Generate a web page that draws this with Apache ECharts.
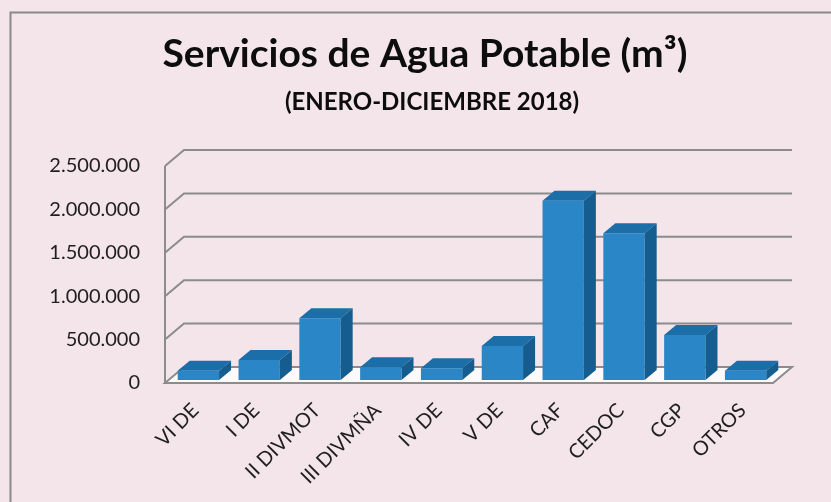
<!DOCTYPE html>
<html>
<head>
<meta charset="utf-8">
<script src="https://cdn.jsdelivr.net/npm/echarts@6/dist/echarts.min.js"></script>
<style>
  html, body { margin: 0; padding: 0; background: #F3E5EA; }
  #mychart { width: 831px; height: 502px; }
</style>
</head>
<body>
<div id="mychart"></div>
<script>
// datos
var categorias = ['VI DE', 'I DE', 'II DIVMOT', 'III DIVMÑA', 'IV DE', 'V DE', 'CAF', 'CEDOC', 'CGP', 'OTROS'];
var valores = [107000, 230000, 711000, 146000, 135000, 392000, 2066000, 1690000, 518000, 107000];
var marcas = [0, 500000, 1000000, 1500000, 2000000, 2500000];

// profundidad de la pared y de las barras
var PARED_DX = 19, PARED_DY = -16;
var BARRA_DX = 12, BARRA_DY = -10;

function miles(v) {
    return String(v).replace(/\B(?=(\d{3})+(?!\d))/g, '.');
}

function dibujaPared(params, api) {
    var cs = params.coordSys;
    var v = api.value(0);
    var y = api.coord([0, v])[1];
    var x0 = cs.x, x1 = cs.x + cs.width;
    var linea = {stroke: '#8C8C8C', lineWidth: 2, fill: null};
    var hijos = [];
    if (v === 0) {
        hijos.push({
            type: 'polygon',
            shape: {points: [[x0, y], [x1, y], [x1 + PARED_DX, y + PARED_DY], [x0 + PARED_DX, y + PARED_DY]]},
            style: {fill: '#FCFAFB', stroke: '#8C8C8C', lineWidth: 2}
        });
        hijos.push({
            type: 'line',
            shape: {x1: x0, y1: y, x2: x0, y2: cs.y},
            style: linea
        });
    } else {
        hijos.push({
            type: 'polyline',
            shape: {points: [[x0, y], [x0 + PARED_DX, y + PARED_DY], [x1 + PARED_DX, y + PARED_DY]]},
            style: linea
        });
    }
    return {type: 'group', children: hijos};
}

function dibujaBarra(params, api) {
    var i = api.value(0);
    var tope = api.coord([i, api.value(1)]);
    var base = api.coord([i, 0]);
    var w = api.size([1, 0])[0] * 0.68;
    var l = tope[0] - w / 2 + 3, r = l + w;
    var t = tope[1] - 3, b = base[1] - 3;
    return {
        type: 'group',
        children: [
            {type: 'rect', shape: {x: l, y: t, width: w, height: b - t}, style: {fill: '#2A86C6'}},
            {type: 'polygon', shape: {points: [[l, t], [r, t], [r + BARRA_DX, t + BARRA_DY], [l + BARRA_DX, t + BARRA_DY]]}, style: {fill: '#1B6EA8'}},
            {type: 'polygon', shape: {points: [[r, t], [r + BARRA_DX, t + BARRA_DY], [r + BARRA_DX, b + BARRA_DY], [r, b]]}, style: {fill: '#155D8E'}}
        ]
    };
}

var option = {
    backgroundColor: '#F3E5EA',
    animation: false,
    title: [
        {
            text: 'Servicios de Agua Potable (m³)',
            left: 420,
            top: 30,
            textAlign: 'center',
            textStyle: {fontFamily: 'Lato', fontWeight: 'bold', fontSize: 39, color: '#0D0D0D'}
        },
        {
            text: '(ENERO-DICIEMBRE 2018)',
            left: 427,
            top: 85,
            textAlign: 'center',
            textStyle: {fontFamily: 'Lato', fontWeight: 'bold', fontSize: 24, color: '#0D0D0D'}
        }
    ],
    graphic: [
        {
            type: 'rect',
            left: 8,
            top: 10,
            shape: {width: 900, height: 600},
            style: {fill: null, stroke: '#8A8A8A', lineWidth: 2},
            silent: true
        }
    ],
    grid: {
        left: 165,
        right: 58,
        top: 166,
        bottom: 119
    },
    xAxis: {
        type: 'category',
        data: categorias,
        axisLine: {show: false},
        axisTick: {show: false},
        axisLabel: {
            rotate: 45,
            margin: 24,
            interval: 0,
            fontFamily: 'Lato',
            fontSize: 20,
            color: '#1F1F1F'
        }
    },
    yAxis: {
        type: 'value',
        min: 0,
        max: 2500000,
        interval: 500000,
        axisLine: {show: false},
        axisTick: {show: false},
        splitLine: {show: false},
        axisLabel: {
            margin: 25,
            fontFamily: 'Lato',
            fontSize: 20,
            color: '#1F1F1F',
            formatter: miles
        }
    },
    series: [
        {
            type: 'custom',
            name: 'pared',
            renderItem: dibujaPared,
            data: marcas.map(function (v) { return [v]; }),
            encode: {y: 0},
            z: 1,
            silent: true
        },
        {
            type: 'custom',
            name: 'Agua Potable',
            renderItem: dibujaBarra,
            data: valores.map(function (v, i) { return [i, v]; }),
            encode: {x: 0, y: 1},
            z: 2
        }
    ]
};

var mychart = echarts.init(document.getElementById('mychart'));
mychart.setOption(option);
</script>
</body>
</html>
